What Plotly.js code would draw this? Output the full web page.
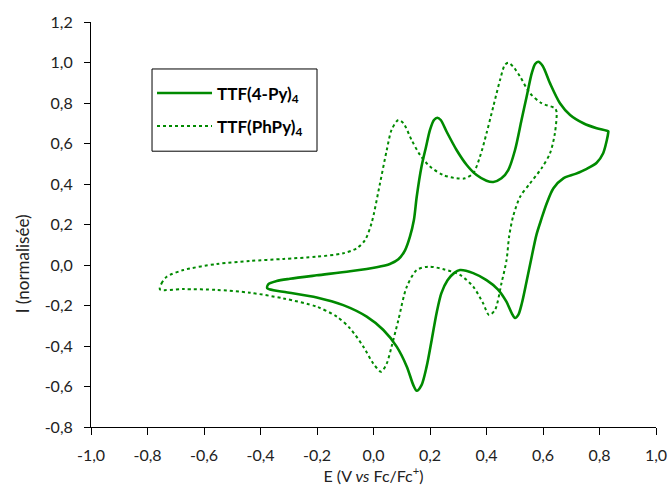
<!DOCTYPE html>
<html>
<head>
<meta charset="utf-8">
<script src="https://cdn.plot.ly/plotly-3.0.1.min.js"></script>
<style>html,body{margin:0;padding:0;background:#fff;}#chart{width:671px;height:488px;}</style>
</head>
<body>
<div id="chart"></div>
<script>
// TTF(4-Py)4 cyclic voltammogram (solid)
const pyE = [-0.376,-0.372,-0.343,-0.296,-0.201,-0.083,0.011,0.058,0.088,0.112,0.129,0.143,0.153,0.170,0.186,0.200,0.214,0.226,0.238,0.259,0.294,0.330,0.365,0.400,0.424,0.453,0.477,0.501,0.524,0.542,0.560,0.572,0.583,0.599,0.625,0.660,0.696,0.743,0.790,0.831,
  0.831,0.826,0.813,0.790,0.755,0.715,0.672,0.637,0.613,0.595,0.577,0.560,0.542,0.525,0.513,0.501,0.490,0.470,0.440,0.400,0.353,0.306,0.285,0.262,0.240,0.223,0.206,0.188,0.170,0.153,0.141,0.118,0.082,0.035,-0.024,-0.107,-0.201,-0.320,-0.376];
const pyI = [-0.115,-0.094,-0.079,-0.068,-0.051,-0.031,-0.011,0.005,0.028,0.074,0.140,0.222,0.337,0.486,0.584,0.667,0.716,0.727,0.716,0.658,0.568,0.494,0.444,0.416,0.410,0.428,0.469,0.568,0.716,0.831,0.946,0.993,1.004,0.983,0.897,0.799,0.741,0.700,0.675,0.660,
  0.655,0.617,0.552,0.505,0.475,0.450,0.428,0.379,0.304,0.230,0.150,0.041,-0.080,-0.190,-0.245,-0.262,-0.240,-0.180,-0.120,-0.075,-0.040,-0.025,-0.040,-0.075,-0.140,-0.239,-0.370,-0.502,-0.593,-0.621,-0.593,-0.502,-0.403,-0.321,-0.255,-0.198,-0.160,-0.132,-0.115];

// TTF(PhPy)4 cyclic voltammogram (dotted)
const phE = [-0.756,-0.750,-0.732,-0.673,-0.555,-0.437,-0.319,-0.201,-0.107,-0.060,-0.030,-0.007,0.023,0.047,0.064,0.088,0.106,0.135,0.165,0.200,0.247,0.294,0.324,0.353,0.377,0.400,0.424,0.448,0.465,0.477,0.494,0.519,0.554,0.595,0.642,
  0.648,0.642,0.625,0.595,0.554,0.519,0.494,0.480,0.471,0.453,0.430,0.409,0.388,0.353,0.306,0.248,0.194,0.153,0.117,0.088,0.064,0.047,0.027,-0.001,-0.036,-0.083,-0.130,-0.201,-0.319,-0.437,-0.555,-0.673,-0.756];
const phI = [-0.120,-0.090,-0.058,-0.025,0.005,0.020,0.030,0.041,0.058,0.082,0.123,0.206,0.403,0.568,0.667,0.716,0.700,0.617,0.543,0.486,0.444,0.428,0.428,0.453,0.535,0.650,0.782,0.914,0.988,0.999,0.980,0.930,0.848,0.799,0.774,
  0.757,0.650,0.552,0.478,0.403,0.337,0.239,0.140,0.025,-0.090,-0.222,-0.247,-0.189,-0.107,-0.049,-0.021,-0.008,-0.025,-0.110,-0.272,-0.403,-0.486,-0.527,-0.486,-0.403,-0.313,-0.255,-0.206,-0.165,-0.137,-0.123,-0.119,-0.120];

const seriesNames = ['TTF(4-Py)<sub>4</sub>', 'TTF(PhPy)<sub>4</sub>'];

const xTickVals = [-1.0,-0.8,-0.6,-0.4,-0.2,0.0,0.2,0.4,0.6,0.8,1.0];
const xTickText = ['-1,0','-0,8','-0,6','-0,4','-0,2','0,0','0,2','0,4','0,6','0,8','1,0'];
const yTickVals = [-0.8,-0.6,-0.4,-0.2,0.0,0.2,0.4,0.6,0.8,1.0,1.2];
const yTickText = ['-0,8','-0,6','-0,4','-0,2','0,0','0,2','0,4','0,6','0,8','1,0','1,2'];

const xTitle = 'E (V <i>vs</i> Fc/Fc<sup>+</sup>)';
const yTitle = 'I (normalisée)';

const green = '#008a00';
const fontFam = 'Lato, "Open Sans", sans-serif';

const traces = [
  {x: pyE, y: pyI, name: seriesNames[0], legendgroup: 'a', mode: 'lines', line: {color: green, width: 2.6, shape: 'spline', smoothing: 0.8}},
  {x: phE, y: phI, name: seriesNames[1], legendgroup: 'b', mode: 'lines', line: {color: green, width: 2, dash: 'dot', shape: 'spline', smoothing: 0.8}}
];

const layout = {
  width: 671, height: 488,
  margin: {l: 91, r: 15, t: 22, b: 61},
  paper_bgcolor: '#fff', plot_bgcolor: '#fff',
  font: {family: fontFam, size: 16, color: '#222'},
  showlegend: true,
  legend: {
    x: 0.108, y: 0.868, xanchor: 'left', yanchor: 'top',
    borderwidth: 0, bgcolor: 'rgba(0,0,0,0)',
    font: {family: fontFam, size: 17, color: '#000', weight: 'bold'},
    itemwidth: 55,
    tracegroupgap: 8
  },
  shapes: [{
    type: 'rect', xref: 'paper', yref: 'paper',
    x0: 0.108, x1: 0.400, y0: 0.681, y1: 0.884,
    line: {color: '#000', width: 1}, fillcolor: 'rgba(0,0,0,0)', layer: 'above'
  }],
  annotations: [{
    text: yTitle, xref: 'paper', yref: 'paper',
    x: -0.122, y: 0.402, xanchor: 'center', yanchor: 'middle',
    textangle: -90, showarrow: false,
    font: {family: fontFam, size: 17, color: '#222'}
  }],
  xaxis: {
    range: [-1, 1], autorange: false,
    tickmode: 'array', tickvals: xTickVals, ticktext: xTickText,
    ticks: 'outside', ticklen: 7, tickwidth: 1, tickcolor: '#000',
    showline: true, linecolor: '#000', linewidth: 1,
    showgrid: false, zeroline: false, mirror: false,
    ticklabelstandoff: 7,
    tickfont: {family: fontFam, size: 16, color: '#222'},
    title: {text: xTitle, font: {family: fontFam, size: 16, color: '#222'}, standoff: 4}
  },
  yaxis: {
    range: [-0.8, 1.2], autorange: false,
    tickmode: 'array', tickvals: yTickVals, ticktext: yTickText,
    ticks: 'outside', ticklen: 6, tickwidth: 1, tickcolor: '#000',
    showline: true, linecolor: '#000', linewidth: 1,
    showgrid: false, zeroline: false, mirror: false,
    ticklabelstandoff: 8,
    tickfont: {family: fontFam, size: 16, color: '#222'}
  }
};

Plotly.newPlot('chart', traces, layout, {staticPlot: true, displayModeBar: false});
</script>
</body>
</html>
